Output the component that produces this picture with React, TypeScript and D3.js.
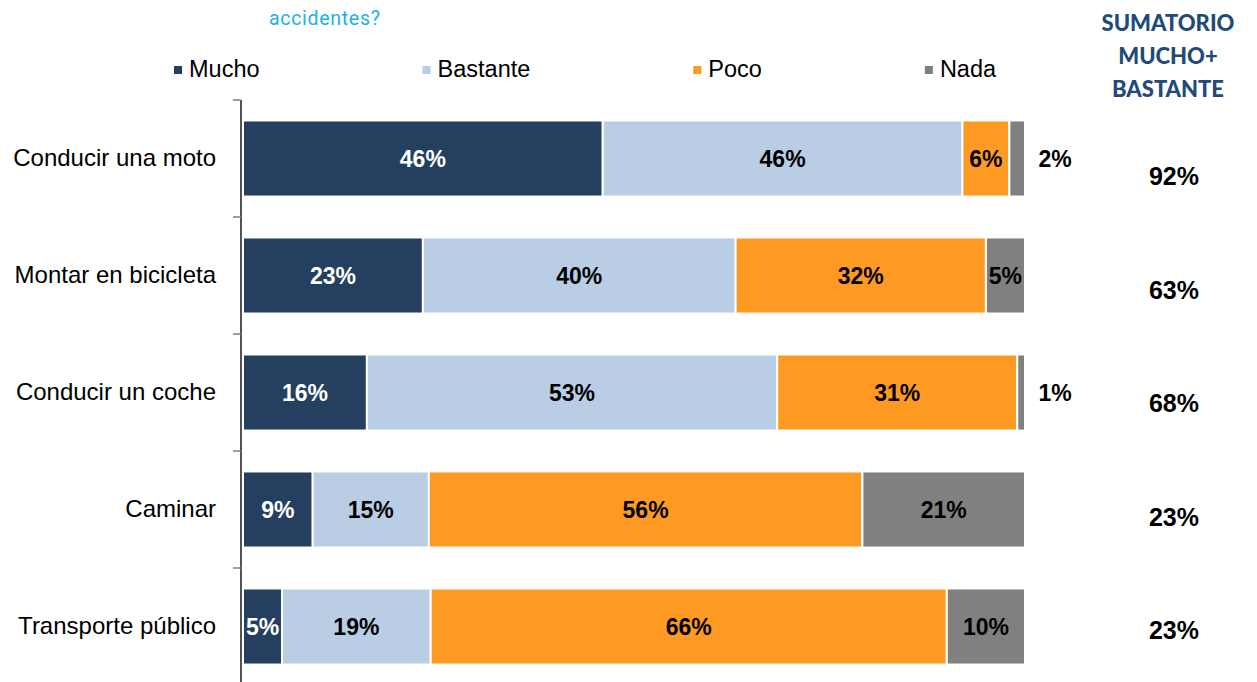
import * as d3 from 'd3';
import { useEffect, useRef } from 'react';

const categories = ['Conducir una moto', 'Montar en bicicleta', 'Conducir un coche', 'Caminar', 'Transporte público'];
const seriesNames = ['Mucho', 'Bastante', 'Poco', 'Nada'];
const mucho = [46, 23, 16, 9, 5];
const bastante = [46, 40, 53, 15, 19];
const poco = [6, 32, 31, 56, 66];
const nada = [2, 5, 1, 21, 10];
const sumatorio = [92, 63, 68, 23, 23];
const headerLines = ['SUMATORIO', 'MUCHO+', 'BASTANTE'];
const titleText = 'accidentes?';

const colors = ['#253f60', '#b9cde5', '#fe9a21', '#808080'];
const labelColors = ['#ffffff', '#000000', '#000000', '#000000'];

const W = 1257;
const H = 682;
const ARIAL = '"Liberation Sans", Arial, sans-serif';

interface Row {
    cat: string;
    values: number[];
}

const rows: Row[] = categories.map((cat, i) => ({
    cat,
    values: [mucho[i], bastante[i], poco[i], nada[i]],
}));

const App = () => {
    const ref = useRef<SVGSVGElement>(null);

    useEffect(() => {
        const svg = d3.select(ref.current);
        svg.selectAll('*').remove();

        const x = d3.scaleLinear().domain([0, 1]).range([243, 1025]);
        const y = d3.scaleBand<string>()
            .domain(categories)
            .range([100, 685])
            .paddingInner(0.35)
            .paddingOuter(0.175);
        const ySum = d3.scalePoint<string>().domain(categories).range([185, 639]);

        // Title fragment (rest of the question is cut off above)
        svg.append('text')
            .attr('x', 269)
            .attr('y', 25)
            .attr('fill', '#21b1e6')
            .style('font-family', 'Roboto, sans-serif')
            .style('font-size', '19.5px')
            .style('letter-spacing', '0.7px')
            .text(titleText);

        // Legend
        let lx = 174;
        seriesNames.forEach((name, i) => {
            svg.append('rect')
                .attr('x', lx).attr('y', 66)
                .attr('width', 8).attr('height', 8)
                .attr('fill', colors[i]);
            const t = svg.append('text')
                .attr('x', lx + 15)
                .attr('y', 77)
                .style('font-family', ARIAL)
                .style('font-size', '23.5px')
                .attr('fill', '#000')
                .text(name);
            const w = (t.node() as SVGTextElement).getComputedTextLength();
            lx = lx + 15 + w + 163;
        });

        // Header of the right column
        headerLines.forEach((line, i) => {
            svg.append('text')
                .attr('x', 1168)
                .attr('y', 31 + i * 33)
                .attr('text-anchor', 'middle')
                .attr('fill', '#204a78')
                .style('font-family', 'Lato, sans-serif')
                .style('font-weight', 900)
                .style('font-size', '22px')
                .text(line);
        });

        // Bars
        rows.forEach(row => {
            const total = d3.sum(row.values);
            let acc = 0;
            const g = svg.append('g');
            row.values.forEach((v, j) => {
                const x0 = x(acc / total);
                const x1 = x((acc + v) / total);
                acc += v;
                g.append('rect')
                    .attr('x', x0)
                    .attr('y', y(row.cat)!)
                    .attr('width', x1 - x0)
                    .attr('height', y.bandwidth())
                    .attr('fill', colors[j])
                    .attr('stroke', '#ffffff')
                    .attr('stroke-width', 2);
                const outside = j === seriesNames.length - 1 && v <= 2;
                g.append('text')
                    .attr('x', outside ? x1 + 30 : (x0 + x1) / 2)
                    .attr('y', y(row.cat)! + y.bandwidth() / 2)
                    .attr('dy', '0.35em')
                    .attr('text-anchor', 'middle')
                    .attr('fill', outside ? '#000' : labelColors[j])
                    .style('font-family', ARIAL)
                    .style('font-weight', 700)
                    .style('font-size', '23px')
                    .text(`${v}%`);
            });
        });

        // Category axis
        const axis = svg.append('g');
        axis.append('line')
            .attr('x1', 241).attr('x2', 241)
            .attr('y1', 100).attr('y2', 685)
            .attr('stroke', '#1a1a1a')
            .attr('stroke-width', 1.5);
        const ticks = categories.map(c => y(c)! - (y.step() - y.bandwidth()) / 2);
        ticks.push(685);
        ticks.forEach(t => {
            axis.append('line')
                .attr('x1', 233).attr('x2', 241)
                .attr('y1', t).attr('y2', t)
                .attr('stroke', '#7f7f7f')
                .attr('stroke-width', 1.5);
        });
        categories.forEach(c => {
            axis.append('text')
                .attr('x', 216)
                .attr('y', y(c)! + y.bandwidth() / 2)
                .attr('dy', '0.33em')
                .attr('text-anchor', 'end')
                .attr('fill', '#000')
                .style('font-family', ARIAL)
                .style('font-size', '24px')
                .text(c);
        });

        // Sum column
        categories.forEach((c, i) => {
            svg.append('text')
                .attr('x', 1174)
                .attr('y', ySum(c)!)
                .attr('text-anchor', 'middle')
                .attr('fill', '#000')
                .style('font-family', ARIAL)
                .style('font-weight', 700)
                .style('font-size', '25px')
                .text(`${sumatorio[i]}%`);
        });
    }, []);

    return (
        <svg
            ref={ref}
            width={W}
            height={H}
            style={{ position: 'absolute', left: 0, top: 0, background: '#fff' }}
        />
    );
};

export default App;
